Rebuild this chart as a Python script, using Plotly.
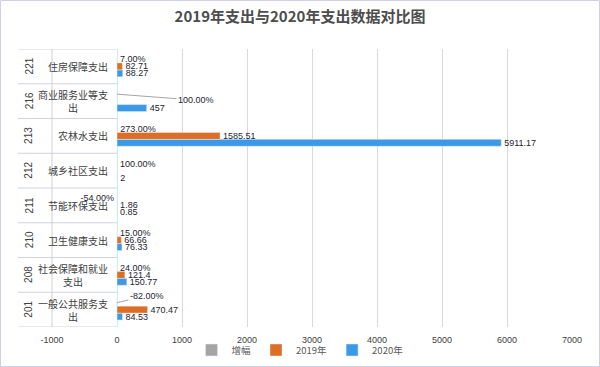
import plotly.graph_objects as go

# ---------------- data (bottom to top) ----------------
codes = ["201", "208", "210", "211", "212", "213", "216", "221"]
names = ["一般公共服务支出", "社会保障和就业支出", "卫生健康支出", "节能环保支出",
         "城乡社区支出", "农林水支出", "商业服务业等支出", "住房保障支出"]
v2019 = [470.47, 121.4, 66.66, 1.86, None, 1585.51, None, 82.71]
v2020 = [84.53, 150.77, 76.33, 0.85, 2, 5911.17, 457, 88.27]
growth = [-0.82, 0.24, 0.15, -0.54, 1.00, 2.73, 1.00, 0.07]

x_ticks = [-1000, 0, 1000, 2000, 3000, 4000, 5000, 6000, 7000]
x_tick_labels = ["-1000", "0", "1000", "2000", "3000", "4000", "5000", "6000", "7000"]

# labels of growth moved off the bar with a leader line: code -> (dx, dy) px
moved_growth_labels = {"216": (79, 6), "201": (30, -7)}

# ---------------- style ----------------
W, H = 600, 367
ML, MR, MT, MB = 52, 28, 49, 40
PW, PH = W - ML - MR, H - MT - MB
XMIN, XMAX = x_ticks[0], x_ticks[-1]
BARGAP = 0.4
C_GROWTH, C_2019, C_2020 = "#A5A5A5", "#DD6E24", "#3B99E8"
NUM_FONT = dict(family="Liberation Sans, Arial, sans-serif", size=9, color="#1E2430")
CJK = "Noto Sans CJK SC, sans-serif"


def fmt_num(v):
    if v is None:
        return ""
    return ("%g" % v)


def wrap(s, n=7):
    return "<br>".join(s[i:i + n] for i in range(0, len(s), n))


growth_text = ["" if c in moved_growth_labels else f"{g:.2%}" for c, g in zip(codes, growth)]

fig = go.Figure()
fig.add_trace(go.Bar(
    name="2020年", y=codes, x=v2020, orientation="h", marker_color=C_2020,
    text=[fmt_num(v) for v in v2020], textposition="outside", textfont=NUM_FONT,
    constraintext="none", cliponaxis=False))
fig.add_trace(go.Bar(
    name="2019年", y=codes, x=v2019, orientation="h", marker_color=C_2019,
    text=[fmt_num(v) for v in v2019], textposition="outside", textfont=NUM_FONT,
    constraintext="none", cliponaxis=False))
fig.add_trace(go.Bar(
    name="增幅", y=codes, x=growth, orientation="h", marker_color=C_GROWTH,
    text=growth_text, textposition="outside", textfont=NUM_FONT,
    constraintext="none", cliponaxis=False))

annotations = []
shapes = []
bar_w = (1 - BARGAP) / 3
x0_paper = (0 - XMIN) / (XMAX - XMIN)
left_paper = -(ML - 18) / PW

for i, (c, nm, g) in enumerate(zip(codes, names, growth)):
    # category name
    annotations.append(dict(x=0, y=i, xref="x", yref="y", text=wrap(nm), showarrow=False,
                            xanchor="right", yanchor="middle", xshift=-7, align="center",
                            font=dict(family=CJK, size=10, color="#404040")))
    # code (rotated)
    annotations.append(dict(x=(29 - ML) / PW, y=i, xref="paper", yref="y", text=c,
                            showarrow=False, textangle=-90, xanchor="center", yanchor="middle",
                            font=dict(family="Liberation Sans, sans-serif", size=10, color="#404040")))
    if c in moved_growth_labels:
        dx, dy = moved_growth_labels[c]
        annotations.append(dict(x=g, y=i + bar_w, xref="x", yref="y", text=f"{g:.2%}",
                                showarrow=True, arrowhead=0, arrowwidth=1, arrowcolor="#A6A6A6",
                                ax=dx, ay=dy, standoff=0, font=NUM_FONT))

# table lines of the category labels
for k in range(len(codes) + 1):
    shapes.append(dict(type="line", xref="paper", yref="y", x0=left_paper, x1=x0_paper,
                       y0=k - 0.5, y1=k - 0.5, line=dict(color="#D0D4E0", width=1)))
shapes.append(dict(type="line", xref="paper", yref="y", x0=0, x1=0,
                   y0=-0.5, y1=len(codes) - 0.5, line=dict(color="#D0D0D0", width=1)))
# chart border
shapes.append(dict(type="rect", xref="paper", yref="paper",
                   x0=-ML / PW + 0.5 / PW, x1=1 + (MR - 0.5) / PW,
                   y0=-(MB - 0.5) / PH, y1=1 + (MT - 0.5) / PH,
                   line=dict(color="#CFCFE6", width=1)))

fig.update_layout(
    autosize=False,
    width=W, height=H,
    margin=dict(l=ML, r=MR, t=MT, b=MB, autoexpand=False),
    paper_bgcolor="white", plot_bgcolor="white",
    barmode="group", bargap=BARGAP, bargroupgap=0,
    font=dict(family=CJK, size=10, color="#595959"),
    title=dict(text="<b>2019年支出与2020年支出数据对比图</b>", x=0.5, xanchor="center",
               y=1 - 17 / H, yanchor="middle",
               font=dict(family=CJK, size=15, color="#4D4D4D")),
    xaxis=dict(range=[XMIN, XMAX], tickvals=x_ticks, ticktext=x_tick_labels,
               showgrid=True, gridcolor="#D9D9D9", gridwidth=1,
               zeroline=True, zerolinecolor="#C8EEF2", zerolinewidth=1,
               showline=False, ticks="", ticklabelstandoff=6, automargin=False,
               tickfont=dict(family="Liberation Sans, Arial, sans-serif", size=9, color="#404040")),
    yaxis=dict(type="category", categoryorder="array", categoryarray=codes,
               range=[-0.5, len(codes) - 0.5], showticklabels=False, showgrid=False,
               zeroline=False, showline=False, ticks="", automargin=False),
    legend=dict(orientation="h", xref="container", x=0.5, xanchor="center",
                yref="container", y=1 - 350 / H, yanchor="middle", traceorder="reversed",
                itemwidth=30, font=dict(family=CJK, size=9.5, color="#595959"),
                bgcolor="rgba(0,0,0,0)"),
    annotations=annotations, shapes=shapes,
)

fig.write_html("out.html",
               config={"displayModeBar": False, "responsive": False},
               post_script="document.body.style.margin='0';document.body.style.padding='0';")
